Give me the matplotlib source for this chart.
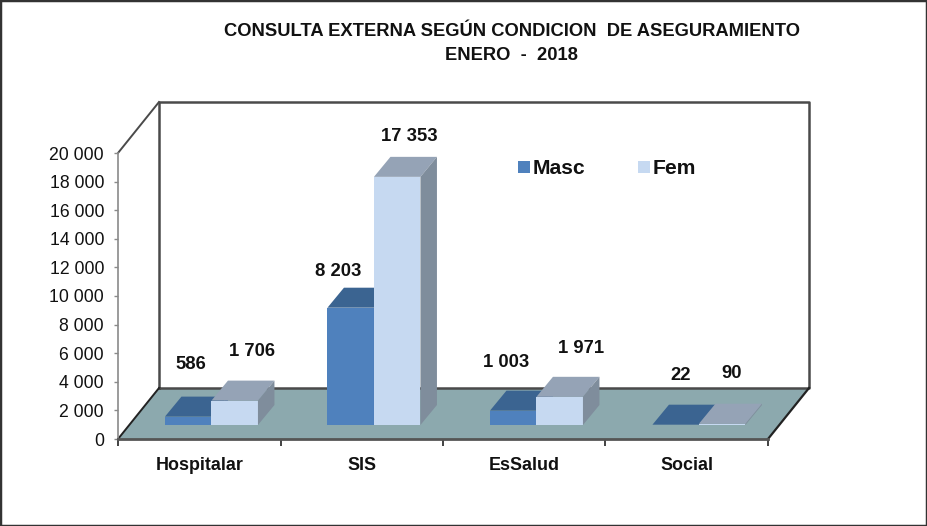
# -*- coding: utf-8 -*-
import numpy as np
import matplotlib
matplotlib.use('Agg')
import matplotlib.pyplot as plt
from matplotlib.patches import Polygon, Rectangle
from matplotlib.ticker import FuncFormatter

categories = ['Hospitalar', 'SIS', 'EsSalud', 'Social']
masc = [586, 8203, 1003, 22]
fem = [1706, 17353, 1971, 90]
y_ticks = list(range(0, 20001, 2000))
title = 'CONSULTA EXTERNA SEGÚN CONDICION  DE ASEGURAMIENTO\nENERO  -  2018'

plt.rcParams['font.family'] = ['Liberation Sans', 'DejaVu Sans']

W, H = 927, 526
# front plane of the 3d box, in pixels
left, right, bottom, top = 118, 768, 439, 153

fig = plt.figure(figsize=(W / 100, H / 100), dpi=100, facecolor='white')
ax = fig.add_axes([left / W, 1 - bottom / H, (right - left) / W, (bottom - top) / H])
ax.set_xlim(0, 4)
ax.set_ylim(0, 20000)
ax.patch.set_alpha(0)

px_x = 4 / (right - left)
px_y = 20000 / (bottom - top)

# wall depth, bar gap from the front, bar depth (pixels)
wall_dx, wall_dy = 41 * px_x, 51 * px_y
gap_dx, gap_dy = 12.2 * px_x, 14 * px_y
bar_dx, bar_dy = 16.5 * px_x, 20 * px_y
bar_w = 46.5 * px_x

# floor and walls
floor = Polygon([(0, 0), (4, 0), (4 + wall_dx, wall_dy), (wall_dx, wall_dy)],
                facecolor='#8CA9AE', edgecolor='none', clip_on=False, zorder=1)
ax.add_patch(floor)
dark = '#4A4A4A'
ax.plot([wall_dx, wall_dx, 4 + wall_dx, 4 + wall_dx, wall_dx],
        [wall_dy, 20000 + wall_dy, 20000 + wall_dy, wall_dy, wall_dy],
        color=dark, lw=1.8, clip_on=False, zorder=1.5)
ax.plot([0, wall_dx], [20000, 20000 + wall_dy], color=dark, lw=1.4, clip_on=False, zorder=1.5)
ax.plot([0, wall_dx], [0, wall_dy], color='#222222', lw=1.4, clip_on=False, zorder=2)
ax.plot([4, 4 + wall_dx], [0, wall_dy], color='#222222', lw=1.6, clip_on=False, zorder=2)


def draw_bar(x, v, front, top_c, side_c, z):
    xb = x + gap_dx
    yb = gap_dy
    rect = ax.bar(xb, v, bar_w, bottom=yb, align='edge', color=front, clip_on=False, zorder=z)
    ax.add_patch(Polygon([(xb, yb + v), (xb + bar_w, yb + v),
                          (xb + bar_w + bar_dx, yb + v + bar_dy), (xb + bar_dx, yb + v + bar_dy)],
                         facecolor=top_c, edgecolor='none', clip_on=False, zorder=z))
    ax.add_patch(Polygon([(xb + bar_w, yb), (xb + bar_w + bar_dx, yb + bar_dy),
                          (xb + bar_w + bar_dx, yb + v + bar_dy), (xb + bar_w, yb + v)],
                         facecolor=side_c, edgecolor='none', clip_on=False, zorder=z))
    return rect


# label shifts from the top centre of each front face, in pixels
masc_shift = [(2.5, 52), (-13, 36), (-7, 48), (5, 49)]
fem_shift = [(17, 49), (12, 40), (21, 48), (9, 50)]

for i in range(len(categories)):
    xm = i + 0.5 - bar_w
    xf = i + 0.5
    hm = draw_bar(xm, masc[i], '#4F81BD', '#3B6491', '#3F6897', 3 + i * 0.1)
    hf = draw_bar(xf, fem[i], '#C6D9F1', '#95A3B6', '#7F8D9C', 3.05 + i * 0.1)
    for x0, v, s in ((xm, masc[i], masc_shift[i]), (xf, fem[i], fem_shift[i])):
        ax.annotate(f'{v:,}'.replace(',', ' '),
                    (x0 + gap_dx + bar_w / 2, v + gap_dy), xytext=(s[0] * 0.72, s[1] * 0.72),
                    textcoords='offset points', ha='center', va='center',
                    fontsize=13.3, fontweight='bold', color='#111111', zorder=6,
                    annotation_clip=False)

# axes
for s in ['top', 'right']:
    ax.spines[s].set_visible(False)
ax.spines['left'].set_color('#8A8A8A')
ax.spines['left'].set_linewidth(1.2)
ax.spines['bottom'].set_color('#555555')
ax.spines['bottom'].set_linewidth(2)
ax.set_yticks(y_ticks)
ax.yaxis.set_major_formatter(FuncFormatter(lambda v, p: f'{int(v):,}'.replace(',', ' ')))
ax.tick_params(axis='y', length=3, width=1, color='#8A8A8A', pad=7, labelsize=12.7, labelcolor='#111111')
ax.set_xticks(np.arange(5))
ax.set_xticklabels([''] * 5)
ax.tick_params(axis='x', which='major', length=5, width=1.2, color='#222222', direction='out')
ax.set_xticks(np.arange(4) + 0.5, minor=True)
ax.set_xticklabels(categories, minor=True, fontsize=12.9, fontweight='bold', color='#111111')
ax.tick_params(axis='x', which='minor', length=0, pad=13)

fig.text(512 / W, 1 - 43.5 / H, title, ha='center', va='center', fontsize=13.25,
         fontweight='bold', color='#111111', linespacing=1.6)

leg = ax.legend([hm, hf], ['Masc', 'Fem'], ncol=2, frameon=False, loc='center left',
                bbox_to_anchor=(499 / W, 1 - 169 / H), bbox_transform=fig.transFigure,
                prop={'size': 15.2, 'weight': 'bold'}, handlelength=0.55, handleheight=0.55,
                handletextpad=0.15, columnspacing=2.5)
leg.set_zorder(7)
for t in leg.get_texts():
    t.set_color('#111111')

# outer frame
fig.add_artist(Rectangle((0, 0), 1, 1, transform=fig.transFigure, fill=False,
                         edgecolor='#333333', lw=2.5))

fig.savefig('out.png', dpi=100)
